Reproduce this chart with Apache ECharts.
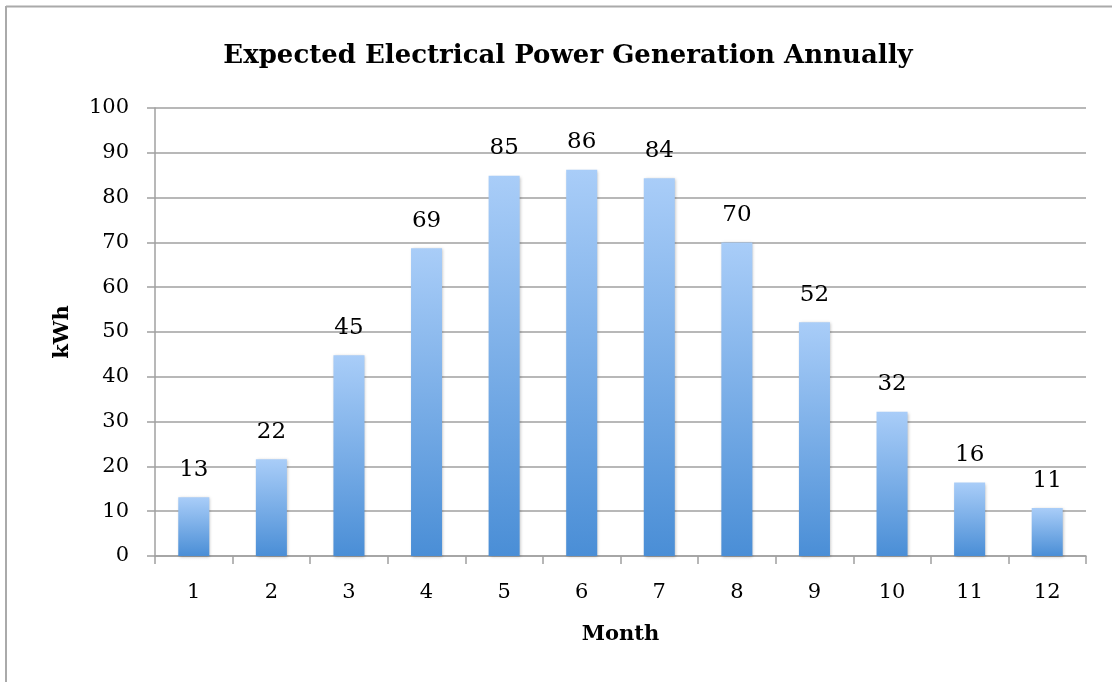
<!DOCTYPE html>
<html>
<head>
<meta charset="utf-8">
<style>
html,body{margin:0;padding:0;background:#fff;}
#chart{width:1112px;height:682px;}
</style>
<script src="https://cdn.jsdelivr.net/npm/echarts@6/dist/echarts.min.js"></script>
</head>
<body>
<div id="chart"></div>
<script>
const months = ['1','2','3','4','5','6','7','8','9','10','11','12'];
const kwh = [13.1, 21.6, 44.8, 68.7, 84.9, 86.2, 84.3, 70.0, 52.2, 32.2, 16.4, 10.7];
const titleText = 'Expected Electrical Power Generation Annually';
const xName = 'Month';
const yName = 'kWh';

const FONT = '"DejaVu Serif", serif';
const GRAY = '#a0a0a0';
const chart = echarts.init(document.getElementById('chart'));
chart.setOption({
  backgroundColor: '#fff',
  animation: false,
  title: {
    text: titleText, left: 563, top: 38, textAlign: 'center',
    textStyle: {fontFamily: FONT, fontWeight: 'bold', fontSize: 26, color: '#000'}
  },
  graphic: [
    {type: 'line', shape: {x1: 6, y1: 6.5, x2: 1112, y2: 6.5}, style: {stroke: '#aaaaaa', lineWidth: 2}},
    {type: 'line', shape: {x1: 6, y1: 6, x2: 6, y2: 682}, style: {stroke: '#aaaaaa', lineWidth: 2}}
  ],
  grid: {left: 155, right: 26, top: 108, bottom: 126},
  xAxis: {
    type: 'category', data: months,
    name: xName, nameLocation: 'middle', nameGap: 68,
    nameTextStyle: {fontFamily: FONT, fontWeight: 'bold', fontSize: 21, color: '#000'},
    axisLine: {lineStyle: {color: GRAY, width: 1.5}},
    axisTick: {show: true, alignWithLabel: false, length: 8, lineStyle: {color: GRAY, width: 1.5}},
    axisLabel: {fontFamily: FONT, fontSize: 21, color: '#000', margin: 26}
  },
  yAxis: {
    type: 'value', min: 0, max: 100, interval: 10,
    name: yName, nameLocation: 'middle', nameGap: 82, nameRotate: 90,
    nameTextStyle: {fontFamily: FONT, fontWeight: 'bold', fontSize: 21, color: '#000'},
    axisLine: {show: true, lineStyle: {color: GRAY, width: 1.5}},
    axisTick: {show: true, length: 8, lineStyle: {color: GRAY, width: 1.5}},
    axisLabel: {fontFamily: FONT, fontSize: 21, color: '#000', margin: 26},
    splitLine: {lineStyle: {color: GRAY, width: 1.5}}
  },
  series: [{
    type: 'bar', data: kwh, barWidth: '40%',
    itemStyle: {
      color: new echarts.graphic.LinearGradient(0, 0, 0, 1, [
        {offset: 0, color: '#a9cdf8'}, {offset: 1, color: '#4a8ed6'}
      ]),
      shadowColor: 'rgba(0,0,0,0.25)', shadowBlur: 3, shadowOffsetX: 1, shadowOffsetY: 1
    },
    label: {
      show: true, position: 'top', distance: 16,
      fontFamily: FONT, fontSize: 23, color: '#000',
      formatter: p => Math.round(p.value)
    }
  }]
});
</script>
</body>
</html>
